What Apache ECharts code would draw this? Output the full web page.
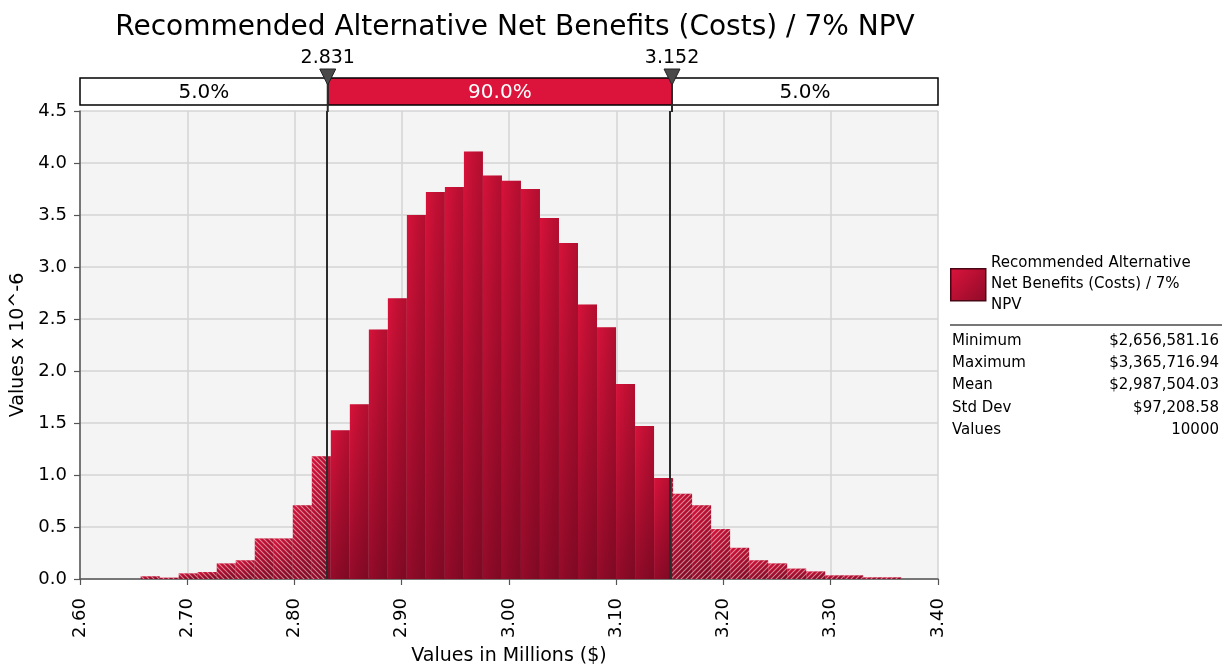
<!DOCTYPE html>
<html>
<head>
<meta charset="utf-8">
<script src="https://cdn.jsdelivr.net/npm/echarts@6/dist/echarts.min.js"></script>
<style>html,body{margin:0;padding:0;background:#fff;}#c{width:1229px;height:671px;}</style>
</head>
<body>
<div id="c"></div>
<script>
// ---- data ----
const titleText = 'Recommended Alternative Net Benefits (Costs) / 7% NPV';
const seriesName = 'Recommended Alternative Net Benefits (Costs) / 7% NPV';
const dataMin = 2.65658116;   // millions $
const dataMax = 3.36571694;   // millions $
const binCount = 40;
// density (values x 10^-6) per bin
const density = [
  0.026, 0.013, 0.054, 0.067, 0.15, 0.18, 0.39, 0.39, 0.71, 1.18,
  1.43, 1.68, 2.40, 2.70, 3.50, 3.72, 3.77, 4.11, 3.88, 3.83,
  3.75, 3.47, 3.23, 2.64, 2.42, 1.875, 1.47, 0.97, 0.82, 0.71,
  0.48, 0.30, 0.18, 0.15, 0.10, 0.073, 0.035, 0.035, 0.016, 0.016
];
const lowerBound = 2.831;
const upperBound = 3.152;
const bandLabels = ['5.0%', '90.0%', '5.0%'];
const xTicks = [2.6, 2.7, 2.8, 2.9, 3.0, 3.1, 3.2, 3.3, 3.4];
const statsLabels = ['Minimum', 'Maximum', 'Mean', 'Std Dev', 'Values'];
const statsValues = ['$2,656,581.16', '$3,365,716.94', '$2,987,504.03', '$97,208.58', '10000'];
const legendLines = ['Recommended Alternative', 'Net Benefits (Costs) / 7%', 'NPV'];

// ---- build ----
const FONT = 'DejaVu Sans, sans-serif';
const binW = (dataMax - dataMin) / binCount;
const bars = density.map((d, i) => [dataMin + i * binW, dataMin + (i + 1) * binW, d]);

function makeHatch(dir) {
  const s = 5;
  const c = document.createElement('canvas');
  c.width = s; c.height = s;
  const g = c.getContext('2d');
  g.strokeStyle = 'rgba(255,255,255,0.5)';
  g.lineWidth = 1.1;
  g.beginPath();
  if (dir === 'back') {
    g.moveTo(-1, -1); g.lineTo(s + 1, s + 1);
    g.moveTo(-1, s - 1); g.lineTo(1, s + 1);
    g.moveTo(s - 1, -1); g.lineTo(s + 1, 1);
  } else {
    g.moveTo(-1, s + 1); g.lineTo(s + 1, -1);
    g.moveTo(-1, 1); g.lineTo(1, -1);
    g.moveTo(s - 1, s + 1); g.lineTo(s + 1, s - 1);
  }
  g.stroke();
  return c;
}
const hatchL = { image: makeHatch('back'), repeat: 'repeat' };
const hatchR = { image: makeHatch('fwd'), repeat: 'repeat' };

const chart = echarts.init(document.getElementById('c'), null, { renderer: 'canvas' });

const baseGrad = () => new echarts.graphic.LinearGradient(0, 0, 0, 1, [
  { offset: 0, color: '#d8123a' },
  { offset: 1, color: '#960b2a' }
]);
const shadeGrad = () => new echarts.graphic.LinearGradient(0, 0, 1, 0, [
  { offset: 0, color: 'rgba(0,0,0,0)' },
  { offset: 1, color: 'rgba(40,0,10,0.22)' }
]);

const graphics = [
  { type: 'rect', left: 950, top: 268, shape: { width: 35, height: 32 },
    style: { fill: new echarts.graphic.LinearGradient(0, 0, 1, 1, [{ offset: 0, color: '#dc143c' }, { offset: 1, color: '#8e0a28' }]), stroke: '#4a0614', lineWidth: 1.5 } },
  { type: 'text', left: 991, top: 253, style: { text: legendLines.join('\n'), fontFamily: FONT, fontSize: 15, lineHeight: 21, fill: '#000' } },
  { type: 'line', shape: { x1: 950, y1: 325, x2: 1222, y2: 325 }, style: { stroke: '#777', lineWidth: 2 } }
];
statsLabels.forEach((lab, i) => {
  const y = 341 + i * 22.3;
  graphics.push({ type: 'text', x: 952, y: y, style: { text: lab, fontFamily: FONT, fontSize: 15, fill: '#000', textAlign: 'left', textVerticalAlign: 'middle' } });
  graphics.push({ type: 'text', x: 1219, y: y, style: { text: statsValues[i], fontFamily: FONT, fontSize: 15, fill: '#000', textAlign: 'right', textVerticalAlign: 'middle' } });
});

const option = {
  animation: false,
  backgroundColor: '#ffffff',
  title: {
    text: titleText, left: 510, top: 9, textAlign: 'center',
    textStyle: { fontFamily: FONT, fontSize: 28, fontWeight: 'normal', color: '#000' }
  },
  grid: [
    { left: 80, right: 291, top: 111, bottom: 91, show: true, backgroundColor: '#f4f4f4', borderWidth: 0 },
    { left: 80, right: 291, top: 78, height: 27, show: false }
  ],
  xAxis: [
    {
      type: 'value', gridIndex: 0, min: 2.6, max: 3.4, interval: 0.1,
      name: 'Values in Millions ($)', nameLocation: 'middle', nameGap: 68,
      nameTextStyle: { fontFamily: FONT, fontSize: 19, color: '#000' },
      axisLine: { show: true, onZero: false, lineStyle: { color: '#555', width: 1.5 } },
      axisTick: { show: true, length: 6, lineStyle: { color: '#555', width: 1.2 } },
      splitLine: { show: true, lineStyle: { color: '#d4d4d4', width: 1.5 } },
      axisLabel: {
        rotate: 90, margin: 19, fontFamily: FONT, fontSize: 18, color: '#000',
        customValues: xTicks,
        formatter: v => v.toFixed(2)
      }
    },
    { type: 'value', gridIndex: 1, min: 2.6, max: 3.4, show: false }
  ],
  yAxis: [
    {
      type: 'value', gridIndex: 0, min: 0, max: 4.5, interval: 0.5,
      name: 'Values x 10^-6', nameLocation: 'middle', nameGap: 45,
      nameTextStyle: { fontFamily: FONT, fontSize: 19, color: '#000' },
      axisLine: { show: true, lineStyle: { color: '#555', width: 1.5 } },
      axisTick: { show: true, length: 6, lineStyle: { color: '#555', width: 1.2 } },
      splitLine: { show: true, lineStyle: { color: '#d4d4d4', width: 1.5 } },
      axisLabel: { margin: 13, fontFamily: FONT, fontSize: 18, color: '#000', formatter: v => v.toFixed(1) }
    },
    { type: 'value', gridIndex: 1, min: 0, max: 1, show: false }
  ],
  series: [
    {
      name: seriesName,
      type: 'custom', xAxisIndex: 0, yAxisIndex: 0,
      data: bars,
      renderItem: function (params, api) {
        const x0 = api.value(0), x1 = api.value(1), h = api.value(2);
        const pTop = api.coord([x0, h]);
        const pBot = api.coord([x1, 0]);
        const w = pBot[0] - pTop[0], ht = pBot[1] - pTop[1];
        const ch = [
          { type: 'rect', shape: { x: pTop[0], y: pTop[1], width: w, height: ht }, style: { fill: baseGrad() } },
          { type: 'rect', shape: { x: pTop[0], y: pTop[1], width: w, height: ht }, style: { fill: shadeGrad() } }
        ];
        if (x0 < lowerBound) {
          const pe = api.coord([Math.min(x1, lowerBound), 0]);
          ch.push({ type: 'rect', shape: { x: pTop[0], y: pTop[1], width: pe[0] - pTop[0], height: ht }, style: { fill: hatchL } });
        }
        if (x1 > upperBound) {
          const ps = api.coord([Math.max(x0, upperBound), 0]);
          ch.push({ type: 'rect', shape: { x: ps[0], y: pTop[1], width: pBot[0] - ps[0], height: ht }, style: { fill: hatchR } });
        }
        return { type: 'group', children: ch };
      },
      markLine: {
        silent: true, symbol: 'none', label: { show: false },
        lineStyle: { color: '#2b2b2b', width: 2, type: 'solid' },
        data: [{ xAxis: lowerBound }, { xAxis: upperBound }]
      },
      z: 2
    },
    {
      type: 'custom', xAxisIndex: 1, yAxisIndex: 1, clip: false,
      data: [[2.6, lowerBound, 0], [lowerBound, upperBound, 1], [upperBound, 3.4, 2]],
      renderItem: function (params, api) {
        const a = api.coord([api.value(0), 1]);
        const b = api.coord([api.value(1), 0]);
        const idx = api.value(2);
        const mid = idx === 1;
        return {
          type: 'group', children: [
            { type: 'rect', shape: { x: a[0], y: a[1], width: b[0] - a[0], height: b[1] - a[1] },
              style: { fill: mid ? '#dc143c' : '#ffffff', stroke: '#000', lineWidth: 1.5 } },
            { type: 'text', style: { text: bandLabels[idx], x: (a[0] + b[0]) / 2, y: (a[1] + b[1]) / 2 + 1,
              textAlign: 'center', textVerticalAlign: 'middle', fontFamily: FONT, fontSize: 20, fill: mid ? '#fff' : '#000' } }
          ]
        };
      },
      z: 3
    },
    {
      type: 'custom', xAxisIndex: 1, yAxisIndex: 1, clip: false,
      data: [[lowerBound], [upperBound]],
      renderItem: function (params, api) {
        const v = api.value(0);
        const top = api.coord([v, 1]);
        const bot = api.coord([v, 0]);
        return {
          type: 'group', children: [
            { type: 'line', shape: { x1: top[0], y1: top[1], x2: bot[0], y2: bot[1] + 7 }, style: { stroke: '#2b2b2b', lineWidth: 2 } },
            { type: 'polygon', shape: { points: [[top[0] - 8, top[1] - 9], [top[0] + 8, top[1] - 9], [top[0], top[1] + 7]] },
              style: { fill: '#4a4a4a', stroke: '#222', lineWidth: 1 } },
            { type: 'text', style: { text: v.toFixed(3), x: top[0], y: top[1] - 10, textAlign: 'center', textVerticalAlign: 'bottom',
              fontFamily: FONT, fontSize: 19, fill: '#000' } }
          ]
        };
      },
      z: 4
    }
  ],
  graphic: graphics
};
chart.setOption(option);
</script>
</body>
</html>
